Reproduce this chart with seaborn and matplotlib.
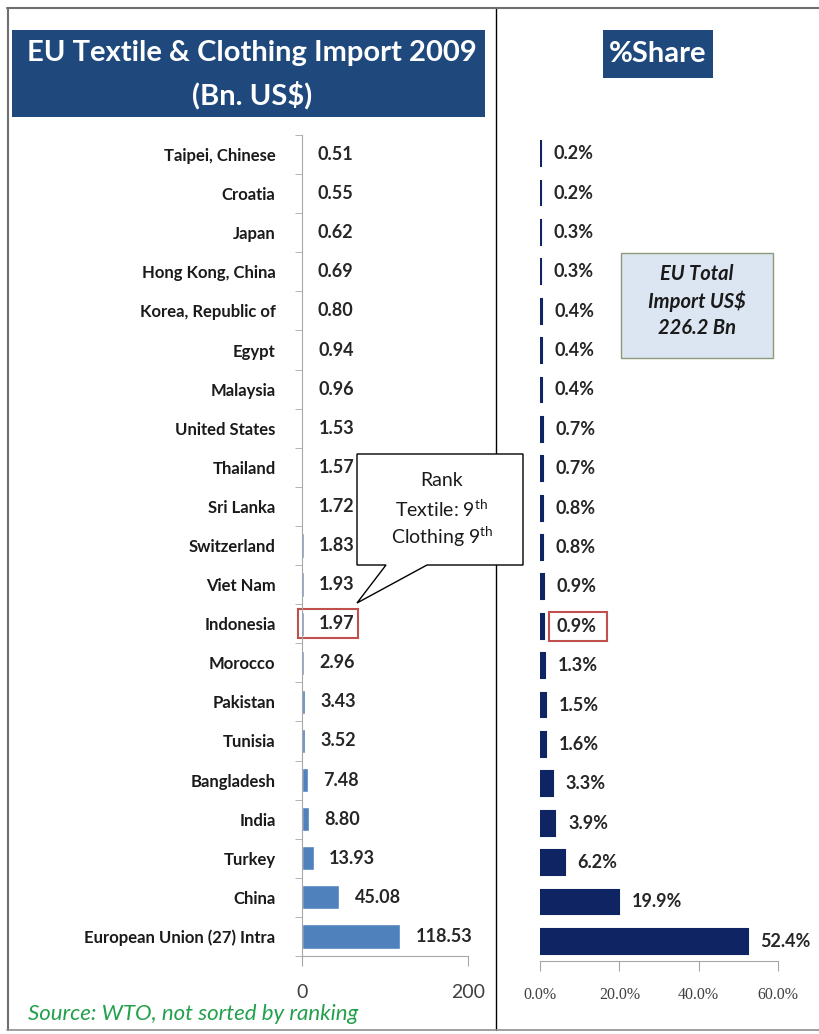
import matplotlib
matplotlib.use("Agg")
import numpy as np
import pandas as pd
import matplotlib.pyplot as plt
import seaborn as sns
from matplotlib.patches import Rectangle, Polygon
from matplotlib.lines import Line2D

# data
countries = ["Taipei, Chinese", "Croatia", "Japan", "Hong Kong, China",
             "Korea, Republic of", "Egypt", "Malaysia", "United States",
             "Thailand", "Sri Lanka", "Switzerland", "Viet Nam", "Indonesia",
             "Morocco", "Pakistan", "Tunisia", "Bangladesh", "India", "Turkey",
             "China", "European Union (27) Intra"]
import_bn = [0.51, 0.55, 0.62, 0.69, 0.80, 0.94, 0.96, 1.53, 1.57, 1.72, 1.83,
             1.93, 1.97, 2.96, 3.43, 3.52, 7.48, 8.80, 13.93, 45.08, 118.53]
share_pct = [0.2, 0.2, 0.3, 0.3, 0.4, 0.4, 0.4, 0.7, 0.7, 0.8, 0.8,
             0.9, 0.9, 1.3, 1.5, 1.6, 3.3, 3.9, 6.2, 19.9, 52.4]
left_ticks = [0, 200]
right_ticks = [0, 20, 40, 60]
highlight = "Indonesia"

sns.set_style("white")
plt.rcParams['font.family'] = ['Lato', 'DejaVu Sans']
plt.rcParams['mathtext.fontset'] = 'custom'
plt.rcParams['mathtext.rm'] = 'Lato'

W, H = 819, 1034
def fx(x):
    return x / W
def fy(y):
    return 1 - y / H

df = pd.DataFrame({"country": countries, "value": import_bn, "share": share_pct})

fig = plt.figure(figsize=(W / 100, H / 100), dpi=100)
ax1 = fig.add_axes([fx(302), fy(956), 166 / W, 821 / H])
ax2 = fig.add_axes([fx(540), fy(961), 238 / W, 827 / H])

sns.barplot(data=df, y="country", x="value", color="#4F81BD", saturation=1,
            width=0.62, ax=ax1)
sns.barplot(data=df, y="country", x="share", color="#0F2463", saturation=1,
            width=0.63, ax=ax2, edgecolor="#0F2463", linewidth=1.5)

grey = "#A6A6A6"
for ax in (ax1, ax2):
    ax.set_xlabel("")
    ax.set_ylabel("")
    ax.set_ylim(len(countries) - 0.5, -0.5)
    for s in ("top", "right"):
        ax.spines[s].set_visible(False)
    ax.spines["bottom"].set_color(grey)
    ax.spines["left"].set_color(grey)
    ax.tick_params(axis="x", length=7, color=grey, direction="out", bottom=True)

# left panel
ax1.set_xlim(0, 200)
ax1.set_xticks(left_ticks)
ax1.set_xticklabels([str(t) for t in left_ticks], fontsize=14, color="#404040")
ax1.tick_params(axis="x", pad=13)
ax1.tick_params(axis="y", which="major", length=0, pad=19)
ax1.set_yticks(np.arange(-0.5, len(countries), 1), minor=True)
ax1.tick_params(axis="y", which="minor", length=5, color=grey, left=True)
for lab in ax1.get_yticklabels():
    lab.set_fontweight("bold")
    lab.set_fontsize(12)
    lab.set_color("#1a1a1a")
ax1.bar_label(ax1.containers[0], labels=[f"{v:.2f}" for v in import_bn],
              padding=11, fontweight="bold", fontsize=13, color="#262626")

# right panel
ax2.set_xlim(0, 60)
ax2.set_xticks(right_ticks)
ax2.set_xticklabels([f"{t:.1f}%" for t in right_ticks], fontsize=11.5,
                    color="#404040", family="Liberation Serif")
ax2.tick_params(axis="x", pad=12)
ax2.set_yticks([])
ax2.spines["left"].set_visible(False)
ax2.bar_label(ax2.containers[0], labels=[f"{v:.1f}%" for v in share_pct],
              padding=9, fontweight="bold", fontsize=13, color="#262626")

# red highlight boxes
hi = countries.index(highlight)
ax1.add_patch(Rectangle((-5, hi - 0.37), 72, 0.74, fill=False,
                        edgecolor="#C0504D", lw=1.5, clip_on=False))
ax2.add_patch(Rectangle((2.2, hi - 0.37), 14.8, 0.74, fill=False,
                        edgecolor="#C0504D", lw=1.5, clip_on=False))

# frame and divider
fig.add_artist(Line2D([fx(7), 1], [fy(8), fy(8)], color="#6F6F6F", lw=1.5))
fig.add_artist(Line2D([fx(8), fx(8)], [fy(8), fy(1030)], color="#6F6F6F", lw=1.5))
fig.add_artist(Line2D([fx(7), 1], [fy(1030), fy(1030)], color="#8F8F8F", lw=1.2))
fig.add_artist(Line2D([fx(496), fx(496)], [fy(8), fy(1030)], color="black", lw=1,
                      zorder=1))

# title boxes
fig.add_artist(Rectangle((fx(12), fy(117)), 473 / W, 87 / H, facecolor="#1F497D",
                         edgecolor="none", transform=fig.transFigure))
fig.text(fx(252), fy(53), "EU Textile & Clothing Import 2009", ha="center",
         va="center", color="white", fontweight="bold", fontsize=21)
fig.text(fx(252), fy(95), "(Bn. US$)", ha="center", va="center",
         color="white", fontweight="bold", fontsize=21)
fig.add_artist(Rectangle((fx(603), fy(78)), 110 / W, 48 / H, facecolor="#1F497D",
                         edgecolor="none", transform=fig.transFigure))
fig.text(fx(658), fy(54), "%Share", ha="center", va="center", color="white",
         fontweight="bold", fontsize=21)

# callout
pts = [(357, 454), (523, 454), (523, 565), (427, 565), (357, 603),
       (386, 565), (357, 565)]
fig.add_artist(Polygon([(fx(x), fy(y)) for x, y in pts], closed=True,
                       facecolor="white", edgecolor="black", lw=1,
                       transform=fig.transFigure, zorder=5))
fig.text(fx(442), fy(481), "Rank", ha="center", va="center", fontsize=14,
         color="#1a1a1a", zorder=6)
fig.text(fx(442), fy(509), r"Textile: 9$^{\mathrm{th}}$", ha="center",
         va="center", fontsize=14, color="#1a1a1a", zorder=6)
fig.text(fx(442), fy(537), r"Clothing 9$^{\mathrm{th}}$", ha="center",
         va="center", fontsize=14, color="#1a1a1a", zorder=6)

# EU total box
fig.add_artist(Rectangle((fx(621), fy(358)), 152 / W, 105 / H, facecolor="#DCE6F2",
                         edgecolor="#8C9A7C", lw=1, transform=fig.transFigure))
fig.text(fx(697), fy(301), "EU Total\nImport US$\n226.2 Bn", ha="center",
         va="center", fontsize=14.5, fontweight="bold", style="italic",
         color="#1a1a1a", linespacing=1.4)

# source
fig.text(fx(28), fy(1014), "Source: WTO, not sorted by ranking", ha="left",
         va="center", fontsize=16, style="italic", color="#22A04B")

fig.savefig("out.png", dpi=100)
